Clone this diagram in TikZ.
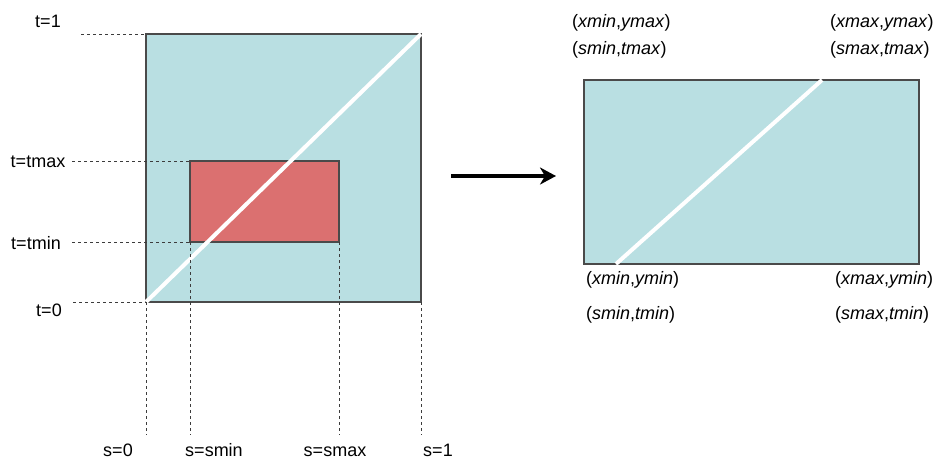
\documentclass[tikz,border=0pt]{standalone}
\usepackage{fontspec}
\setmainfont{Liberation Sans}
\usetikzlibrary{arrows.meta}
\definecolor{paramblue}{HTML}{B9DFE2}
\definecolor{patchred}{HTML}{DB7070}
\definecolor{edgegray}{HTML}{4A4A4A}
\definecolor{guidegray}{HTML}{3C3C3C}
\begin{document}
\begin{tikzpicture}[x=1pt,y=-1pt,
  lbl/.style={font=\fontsize{18}{20}\selectfont, inner sep=0pt, text=black},
  guide/.style={draw=guidegray, line width=1pt, dash pattern=on 3pt off 3pt},
  boxedge/.style={draw=edgegray, line width=1.1pt},
  diag/.style={draw=white, line width=4pt}]
\useasboundingbox (0,0) rectangle (935,459);

% corners of the unit parameter square and the sub-patch
\coordinate (sq00) at (146,302);
\coordinate (sq11) at (421,34);
\coordinate (sq01) at (146,34);
\coordinate (sq10) at (421,302);
\coordinate (pmin) at (190,242);
\coordinate (pmax) at (339,161);
\coordinate (pminmax) at (190,161);
\coordinate (pmaxmin) at (339,242);

% mapped patch on the right
\coordinate (ra) at (584,264);
\coordinate (rb) at (919,80);
\coordinate (rdA) at (616,264);
\coordinate (rdB) at (822,80);

% parameter square and sub-patch
\draw[boxedge, fill=paramblue] (sq00) rectangle (sq11);
\draw[boxedge, fill=patchred] (pmin) rectangle (pmax);
\draw[diag] (sq00) -- (sq11);

% t labels and horizontal guides
\node[lbl] (t1) at (48,21) {t=1};
\node[lbl] (ttmax) at (38,162) {t=tmax};
\node[lbl] (ttmin) at (36,243) {t=tmin};
\node[lbl] (t0) at (49,310) {t=0};
\coordinate (g1) at (81,34);
\coordinate (gmax) at (72,161);
\coordinate (gmin) at (72,242);
\coordinate (g0) at (73,302);
\draw[guide] (g1) -- (sq01);
\draw[guide] (gmax) -- (pminmax);
\draw[guide] (gmin) -- (pmin);
\draw[guide] (g0) -- (sq00);

% s labels (common baseline) and vertical guides
\node[lbl, anchor=base] (s0) at (118,456) {s=0};
\node[lbl, anchor=base] (ssmin) at (214,456) {s=smin};
\node[lbl, anchor=base] (ssmax) at (335,456) {s=smax};
\node[lbl, anchor=base] (s1) at (438,456) {s=1};
\coordinate (v0) at (146,435);
\coordinate (vmin) at (190,435);
\coordinate (vmax) at (339,435);
\coordinate (v1) at (421,435);
\draw[guide] (sq00) -- (v0);
\draw[guide] (pmin) -- (vmin);
\draw[guide] (pmaxmin) -- (vmax);
\draw[guide] (sq10) -- (v1);

% mapping arrow
\coordinate (arA) at (451,176);
\coordinate (arB) at (556,176);
\draw[line width=4.5pt, -{Stealth[length=16pt,width=17pt,inset=5pt]}] (arA) -- (arB);

% mapped patch
\draw[boxedge, fill=paramblue] (ra) rectangle (rb);
\draw[diag] (rdA) -- (rdB);

% corner labels
\node[lbl, anchor=west] (cxy00) at (572,23) {(\textit{xmin},\textit{ymax})};
\node[lbl, anchor=west] (cst00) at (572,50) {(\textit{smin},\textit{tmax})};
\node[lbl, anchor=west] (cxy10) at (830,23) {(\textit{xmax},\textit{ymax})};
\node[lbl, anchor=west] (cst10) at (830,50) {(\textit{smax},\textit{tmax})};
\node[lbl, anchor=west] (cxy01) at (586,280) {(\textit{xmin},\textit{ymin})};
\node[lbl, anchor=west] (cst01) at (586,315) {(\textit{smin},\textit{tmin})};
\node[lbl, anchor=west] (cxy11) at (835,280) {(\textit{xmax},\textit{ymin})};
\node[lbl, anchor=west] (cst11) at (835,315) {(\textit{smax},\textit{tmin})};
\end{tikzpicture}
\end{document}
